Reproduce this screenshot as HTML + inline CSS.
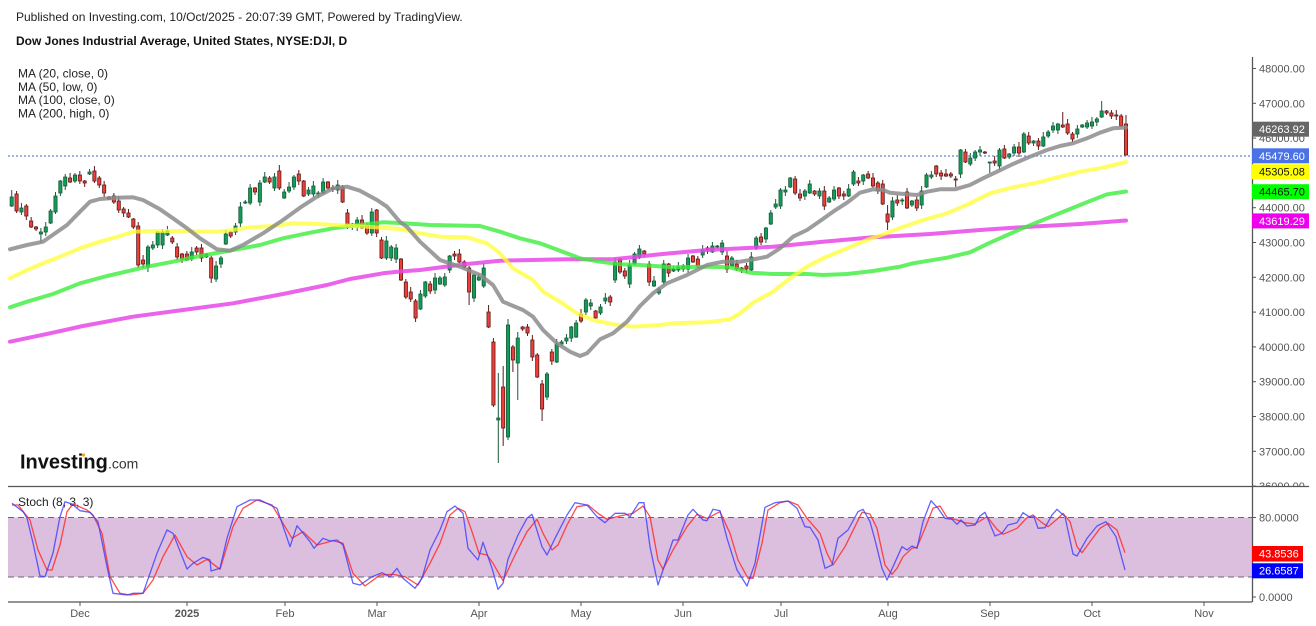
<!DOCTYPE html>
<html><head><meta charset="utf-8">
<style>
html,body{margin:0;padding:0;background:#fff;width:1316px;height:626px;overflow:hidden}
svg{position:absolute;left:0;top:0}
text{font-family:"Liberation Sans",Arial,sans-serif}
</style></head><body>
<svg width="1316" height="626" viewBox="0 0 1316 626" xmlns="http://www.w3.org/2000/svg">
<defs><clipPath id="pc"><rect x="0" y="0" width="1316" height="486"/></clipPath></defs>
<rect width="1316" height="626" fill="#fff"/>
<text x="16" y="21" font-size="12" fill="#222">Published on Investing.com, 10/Oct/2025 - 20:07:39 GMT, Powered by TradingView.</text>
<text x="16" y="45" font-size="12" font-weight="bold" fill="#111">Dow Jones Industrial Average, United States, NYSE:DJI, D</text>
<g font-size="12" fill="#222">
<text x="18" y="77.5">MA (20, close, 0)</text>
<text x="18" y="90.8">MA (50, low, 0)</text>
<text x="18" y="104.1">MA (100, close, 0)</text>
<text x="18" y="117.4">MA (200, high, 0)</text>
</g>
<text x="20" y="468.5" font-size="20" font-weight="bold" fill="#111">Investing</text>
<circle cx="83.5" cy="455" r="1.6" fill="#f7a21b"/>
<text x="108" y="468.5" font-size="14" fill="#333">.com</text>

<!-- stoch band -->
<rect x="8" y="517.5" width="1244" height="59.5" fill="#dcbede"/>
<line x1="8" x2="1252" y1="517.5" y2="517.5" stroke="#6a6a6a" stroke-width="1" stroke-dasharray="6,4"/>
<line x1="8" x2="1252" y1="577" y2="577" stroke="#6a6a6a" stroke-width="1" stroke-dasharray="6,4"/>
<text x="18" y="506" font-size="12" fill="#222">Stoch (8, 3, 3)</text>

<!-- dotted last price line -->
<line x1="8" x2="1252" y1="156" y2="156" stroke="#3f66dd" stroke-width="1" stroke-dasharray="2,2"/>

<g id="candles"></g>

<g fill="none" stroke-linejoin="round" stroke-linecap="round" stroke-width="4">
<polyline stroke="rgba(232,70,232,0.85)" points="10,341.7 50,333.3 83,326 133,316.7 183,310 233,303.3 283,294 327,285 350,279 383,273.3 400,271.5 420,270 467,264 500,260.7 567,259.3 613,259.3 660,254.3 707,250 773,246.7 823,241.7 873,237.3 930,234 980,230 1030,226.7 1080,224 1126,220.5"/>
<polyline stroke="rgba(60,238,60,0.8)" points="10,307.3 27,301.7 53,294 80,283.3 107,276 133,270 147,266.7 173,261.7 200,256 233,250 260,245 283,238.3 307,233.3 333,228.3 350,226 383,222.3 400,223 430,225 480,226 500,231.7 520,238.3 540,243.3 560,250.7 580,258.3 600,261.7 620,264.3 640,265 673,267.3 707,266.7 730,267.3 750,272.7 773,274 807,274 823,275 847,274 873,271 900,266.7 913,263.3 947,257.7 970,252.3 990,242.7 1020,229.3 1047,218.3 1080,205 1107,194.3 1126,191.5"/>
<polyline stroke="rgba(255,255,50,0.75)" points="10,278.3 27,270 43,263.3 60,256.7 80,248.3 100,241.7 120,236 133,231.7 150,231 183,231 217,231.7 233,230 250,227.3 273,226 293,223.3 317,224 350,225.7 383,227.7 400,229 420,233.3 440,236.7 467,237.3 487,243.3 500,253.3 513,268.3 533,280 543,291.7 560,301.7 577,313.3 593,320 613,324.3 633,326.7 660,325 673,323.3 707,322.3 730,319.3 740,313.3 753,302.7 773,291.7 790,278.3 807,266.7 823,258.3 847,248.3 867,240 887,233 900,228 923,220 947,213.3 970,203.3 990,193.3 1013,187.3 1037,182.7 1060,176.7 1080,171.7 1103,167.7 1126,162"/>
<polyline stroke="rgba(140,140,140,0.85)" points="10,249.3 27,245 43,241.7 67,225 80,211.7 90,201.7 100,199 117,197.7 133,197.3 143,200 160,209.3 173,218.3 187,228.3 200,238.3 217,249.3 230,250.7 243,245 263,233.3 283,220 300,207.7 317,196.7 333,188.3 347,186.7 360,190.7 377,200 387,206.7 400,222 407,227 420,241.7 440,260 460,266.7 480,275 493,285 503,301.7 523,310 533,316.7 543,330 557,343.3 570,351.7 580,356 587,353.3 600,339.3 613,333.3 627,321.7 640,306 653,293.3 667,283.3 687,275 707,265 723,261.7 740,261.7 750,260 767,256.7 780,248.3 793,236.7 807,230 820,221 833,211.7 847,202.7 860,192.7 873,189.3 883,190 890,192.7 907,194.3 917,195 927,191.7 940,189.3 955,189.3 970,185 983,178.3 997,171.7 1013,164 1030,156.7 1047,150 1060,146 1073,143.3 1087,138.3 1100,132.7 1113,128.3 1126,127.5"/>
</g>

<!-- stoch lines -->
<g fill="none" stroke-width="1.3" stroke-linejoin="round">
<polyline stroke="rgba(255,45,45,0.85)" points="12,505 18,505 30,520 38,550 47,570 52,570 60,545 67,511.7 73,504 87,510 93,515 102,533.3 110,576.7 120,593.3 130,595 143,593.3 153,580 163,556.7 175,535 187,556.7 197,565 207,559.3 220,569.3 233,526.7 243,508.3 257,500 272,505 283,523.3 292,538.3 303,531.7 317,545 333,540.7 343,543.3 353,573.3 365,586 380,575 393,574.3 405,576.7 418,585 430,563.3 440,543.3 450,515 458,508.3 465,511.7 472,531.7 479,553.3 487,555 493,563.3 503,580.7 515,555 527,531.7 537,519.3 543,533.3 552,550 558,545 567,525 577,506.7 588,505 598,513.3 607,519.3 620,516 633,513.3 643,506 650,516.7 658,560 663,569.3 673,550 687,526.7 697,514.3 707,518.3 720,511.7 730,533.3 738,560 748,578.3 753,578.3 762,543.3 768,510 780,502.7 788,501 798,505 807,518.3 820,533.3 827,553.3 833,565 845,546.7 862,512.3 870,514 877,528.3 885,565 892,574.3 897,568.3 903,556.7 912,548.3 917,547.3 925,528.3 933,508.3 940,506 947,517.3 957,520 965,522.7 975,524 987,516.7 997,529.3 1003,534.3 1017,528.3 1027,517.7 1033,515 1042,522.7 1048,526.7 1057,519.3 1063,513.3 1070,521.7 1077,546.7 1082,552.7 1090,541.7 1100,528.3 1108,523.3 1117,530 1125,552.7"/>
<polyline stroke="rgba(60,60,255,0.8)" points="12,503.3 23,511.7 27,518 33,543 40,576 45,576.7 53,553 60,516.7 65,501.7 72,504 80,510.7 90,512.3 98,521.7 107,566.7 113,593.3 127,595 133,593.3 143,593.3 157,553.3 167,530 173,533.3 187,569 193,563.3 203,557.3 210,560 211,571 220,568.3 227,538.3 237,506.7 250,500 260,500 277,508.3 290,546.7 297,525.7 310,541.7 314,548.3 323,538.3 330,541 337,540 343,545 353,583.3 360,585 372,576.7 382,572.7 390,576.7 397,568.3 403,578.3 415,588.3 422,578.3 430,550 440,530 447,511.7 455,506 463,513.3 468,548.3 478,560 483,542.3 492,568.3 498,589.3 503,583.3 508,559.3 518,535 527,518.3 532,514.3 542,546.7 547,555 555,538.3 567,515 575,502.7 587,505 597,516.7 605,522.7 615,513.3 625,513.3 630,516.7 639,502.7 644,502.7 650,546.7 658,585 673,540 678,540 688,515 693,509.3 703,520 707,520.7 713,509.3 720,510.7 727,538.3 737,570 747,586 755,563.3 765,507.3 775,502.7 788,501 797,508.3 805,526.7 810,527.3 818,540 825,568.3 832,565 838,538.3 848,530 858,511.7 863,509.3 870,521.7 875,540 882,568.3 887,580 893,566.7 902,546.7 907,550 912,546 917,548.3 923,521.7 931,500.7 938,508.3 945,518.3 952,519.3 957,524.3 961,520 967,526 975,525 980,516 985,512.3 995,536 1002,533.3 1008,525 1017,522.7 1023,512.7 1030,517.3 1034,516.7 1038,528.3 1045,527.7 1052,515 1057,509.3 1065,516.7 1073,554 1077,556 1087,538.3 1097,526 1106,521.7 1116,536.7 1125,570"/>
</g>

<!-- frame lines -->
<line x1="8" x2="1309" y1="486.5" y2="486.5" stroke="#555" stroke-width="1.3"/>
<line x1="8" x2="1252" y1="602" y2="602" stroke="#555" stroke-width="1.3"/>
<line x1="1252.5" x2="1252.5" y1="57" y2="602" stroke="#555" stroke-width="1.3"/>

<!-- price axis -->
<g clip-path="url(#pc)" font-size="11" fill="#555" stroke="none">
<g stroke="#555" stroke-width="1">
<line x1="1252" x2="1256" y1="68.5" y2="68.5"/><line x1="1252" x2="1256" y1="103.3" y2="103.3"/><line x1="1252" x2="1256" y1="138.1" y2="138.1"/><line x1="1252" x2="1256" y1="172.9" y2="172.9"/><line x1="1252" x2="1256" y1="207.7" y2="207.7"/><line x1="1252" x2="1256" y1="242.5" y2="242.5"/><line x1="1252" x2="1256" y1="277.3" y2="277.3"/><line x1="1252" x2="1256" y1="312.1" y2="312.1"/><line x1="1252" x2="1256" y1="346.9" y2="346.9"/><line x1="1252" x2="1256" y1="381.7" y2="381.7"/><line x1="1252" x2="1256" y1="416.5" y2="416.5"/><line x1="1252" x2="1256" y1="451.3" y2="451.3"/><line x1="1252" x2="1256" y1="486.1" y2="486.1"/>
</g>
<text x="1259" y="72.5">48000.00</text>
<text x="1259" y="107.3">47000.00</text>
<text x="1259" y="142.1">46000.00</text>
<text x="1259" y="176.9">45000.00</text>
<text x="1259" y="211.7">44000.00</text>
<text x="1259" y="246.5">43000.00</text>
<text x="1259" y="281.3">42000.00</text>
<text x="1259" y="316.1">41000.00</text>
<text x="1259" y="350.9">40000.00</text>
<text x="1259" y="385.7">39000.00</text>
<text x="1259" y="420.5">38000.00</text>
<text x="1259" y="455.3">37000.00</text>
<text x="1259" y="490.1">36000.00</text>
</g>

<!-- price label boxes -->
<g font-size="11">
<rect x="1252" y="121.7" width="57" height="15" fill="#666"/>
<text x="1259" y="133.2" fill="#fff">46263.92</text>
<rect x="1252" y="148.3" width="57" height="15" fill="#4a72e6"/>
<text x="1259" y="159.8" fill="#fff">45479.60</text>
<rect x="1252" y="164.2" width="57" height="15" fill="#ffff00"/>
<text x="1259" y="175.7" fill="#111">45305.08</text>
<rect x="1252" y="184.2" width="57" height="15" fill="#00ff00"/>
<text x="1259" y="195.7" fill="#111">44465.70</text>
<rect x="1252" y="213.4" width="57" height="15" fill="#ee00ee"/>
<text x="1259" y="224.9" fill="#fff">43619.29</text>
</g>

<!-- stoch axis -->
<g font-size="11" fill="#555">
<line x1="1252" x2="1256" y1="517.5" y2="517.5" stroke="#555"/>
<line x1="1252" x2="1256" y1="597" y2="597" stroke="#555"/>
<text x="1259" y="521.5">80.0000</text>
<text x="1259" y="601">0.0000</text>
<rect x="1252" y="546" width="51" height="15.5" fill="#ff0000"/>
<text x="1259" y="557.6" fill="#fff">43.8536</text>
<rect x="1252" y="563.3" width="51" height="15" fill="#0000ff"/>
<text x="1259" y="574.7" fill="#fff">26.6587</text>
</g>

<!-- time axis -->
<g stroke="#555" stroke-width="1">
<line x1="80" x2="80" y1="602" y2="606"/><line x1="187" x2="187" y1="602" y2="606"/><line x1="285" x2="285" y1="602" y2="606"/><line x1="377" x2="377" y1="602" y2="606"/><line x1="479" x2="479" y1="602" y2="606"/><line x1="581" x2="581" y1="602" y2="606"/><line x1="683" x2="683" y1="602" y2="606"/><line x1="781" x2="781" y1="602" y2="606"/><line x1="888" x2="888" y1="602" y2="606"/><line x1="990" x2="990" y1="602" y2="606"/><line x1="1092" x2="1092" y1="602" y2="606"/><line x1="1204" x2="1204" y1="602" y2="606"/>
</g>
<g font-size="11" fill="#555" text-anchor="middle">
<text x="80" y="617">Dec</text>
<text x="187" y="617" font-weight="bold">2025</text>
<text x="285" y="617">Feb</text>
<text x="377" y="617">Mar</text>
<text x="479" y="617">Apr</text>
<text x="581" y="617">May</text>
<text x="683" y="617">Jun</text>
<text x="781" y="617">Jul</text>
<text x="888" y="617">Aug</text>
<text x="990" y="617">Sep</text>
<text x="1092" y="617">Oct</text>
<text x="1204" y="617">Nov</text>
</g>
</svg>
<script>
var d="g197,206;r194,211;g208,212;r206,216;r221,227;r227,229;g232,234;g227,232;g211,223;g196,212;g181,193;g177,186;r178,182;g175,181;r175,181;r181,183;g172,174;r171,181;r178,185;r185,193;r197,199;r196,202;r201,210;r209,213;r213,217;r219,227;r226,265;r260,264;g247,267;g245,248;g232,245;g232,245;g231,235;r238,242;r247,257;r254,259;r254,260;g252,259;r248,252;r248,258;g254,257;r258,278;g266,279;g258,264;g234,244;r232,236;g226,232;g207,223;g202,203;g188,203;r188,192;g183,202;g177,182;r178,182;g177,188;r171,188;g192,198;g187,191;g177,187;r174,181;r181,196;g190,194;g186,194;g193,194;g182,193;r182,188;r188,189;g185,190;r187,202;r213,227;g224,227;g220,227;r220,228;r225,233;g212,233;r210,233;r240,258;g241,258;g247,258;g248,259;r259,280;r282,297;r292,299;r301,318;g294,309;g282,296;r284,291;g278,290;g278,284;g277,285;g256,270;r254,256;r254,262;r262,267;r268,292;g275,298;g277,280;g268,286;r312,327;r342,405;g418,420;r387,428;g325,437;r347,360;g338,363;r327,329;r327,333;r340,357;r355,377;r384,409;g374,397;r352,361;g344,362;g342,344;g338,341;g327,338;g323,337;r314,321;g300,312;g303,306;r311,318;g307,313;g298,301;r297,302;g262,280;r259,272;r271,276;g265,284;g254,264;g249,257;r251,254;r264,282;g281,286;g289,293;g264,282;r264,273;g269,271;g267,270;g266,269;g258,269;r256,262;r259,266;g250,255;r248,250;g246,252;g246,247;g243,252;r256,269;g258,266;r264,269;r268,270;r266,269;g257,270;g238,248;r237,242;g228,239;g213,224;g204,207;g190,206;g190,192;g178,187;r179,193;r194,198;g191,196;g184,193;r191,194;g191,196;r191,206;g198,202;g190,199;r188,196;r194,196;g189,196;g172,184;r181,183;g175,181;r174,178;r178,186;r183,191;r184,204;r214,222;g201,217;r200,203;g200,201;r192,208;g201,205;r200,208;g191,205;g175,187;g175,177;r166,174;r173,176;r174,176;r174,176;r179,180;g150,174;r152,162;g158,164;g152,158;g150,152;r152,153;g162,163;r161,163;g150,166;r149,158;g154,157;g147,153;r147,153;g134,152;r136,143;g141,143;r141,146;g137,146;g132,136;g126,130;g124,130;r125,127;r124,133;r134,139;g129,134;g125,127;g123,127;g122,126;g119,122;g111,117;r111,113;r113,116;r115,116;r116,126;r124,155";
var ov={0:[190,207],6:[228,243],26:[222,268],28:[245,272],41:[256,283],55:[165,190],94:[266,305],98:[305,328],99:[338,407],100:[373,463],101:[366,446],102:[319,440],103:[345,372],104:[332,400],109:[380,421],110:[372,400],124:[258,283],179:[180,205],180:[205,230],181:[197,220],194:[176,187],201:[162,173],216:[112,128],224:[101,118],229:[115,155]};
var s='';
d.split(';').forEach(function(c,i){
  var t=c[0],p=c.slice(1).split(','),a=+p[0],b=+p[1];
  var x=(11.7+i*4.866).toFixed(2);
  var hi=a-(1+(i*37)%5),lo=b+(1+(i*53)%4);
  if(ov[i]){hi=ov[i][0];lo=ov[i][1];}
  var col=t=='g'?'#0f9d58':'#ee3e38',ln=t=='g'?'#1b5a3a':'#5a1c1c';
  s+='<line x1="'+x+'" x2="'+x+'" y1="'+hi+'" y2="'+lo+'" stroke="'+ln+'" stroke-width="1"/>';
  var h=Math.max(b-a,1);
  s+='<rect x="'+(x-1.6).toFixed(2)+'" y="'+a+'" width="3.2" height="'+h+'" fill="'+col+'" stroke="'+ln+'" stroke-width="0.8"/>';
});
document.getElementById('candles').innerHTML=s;
</script>
</body></html>
